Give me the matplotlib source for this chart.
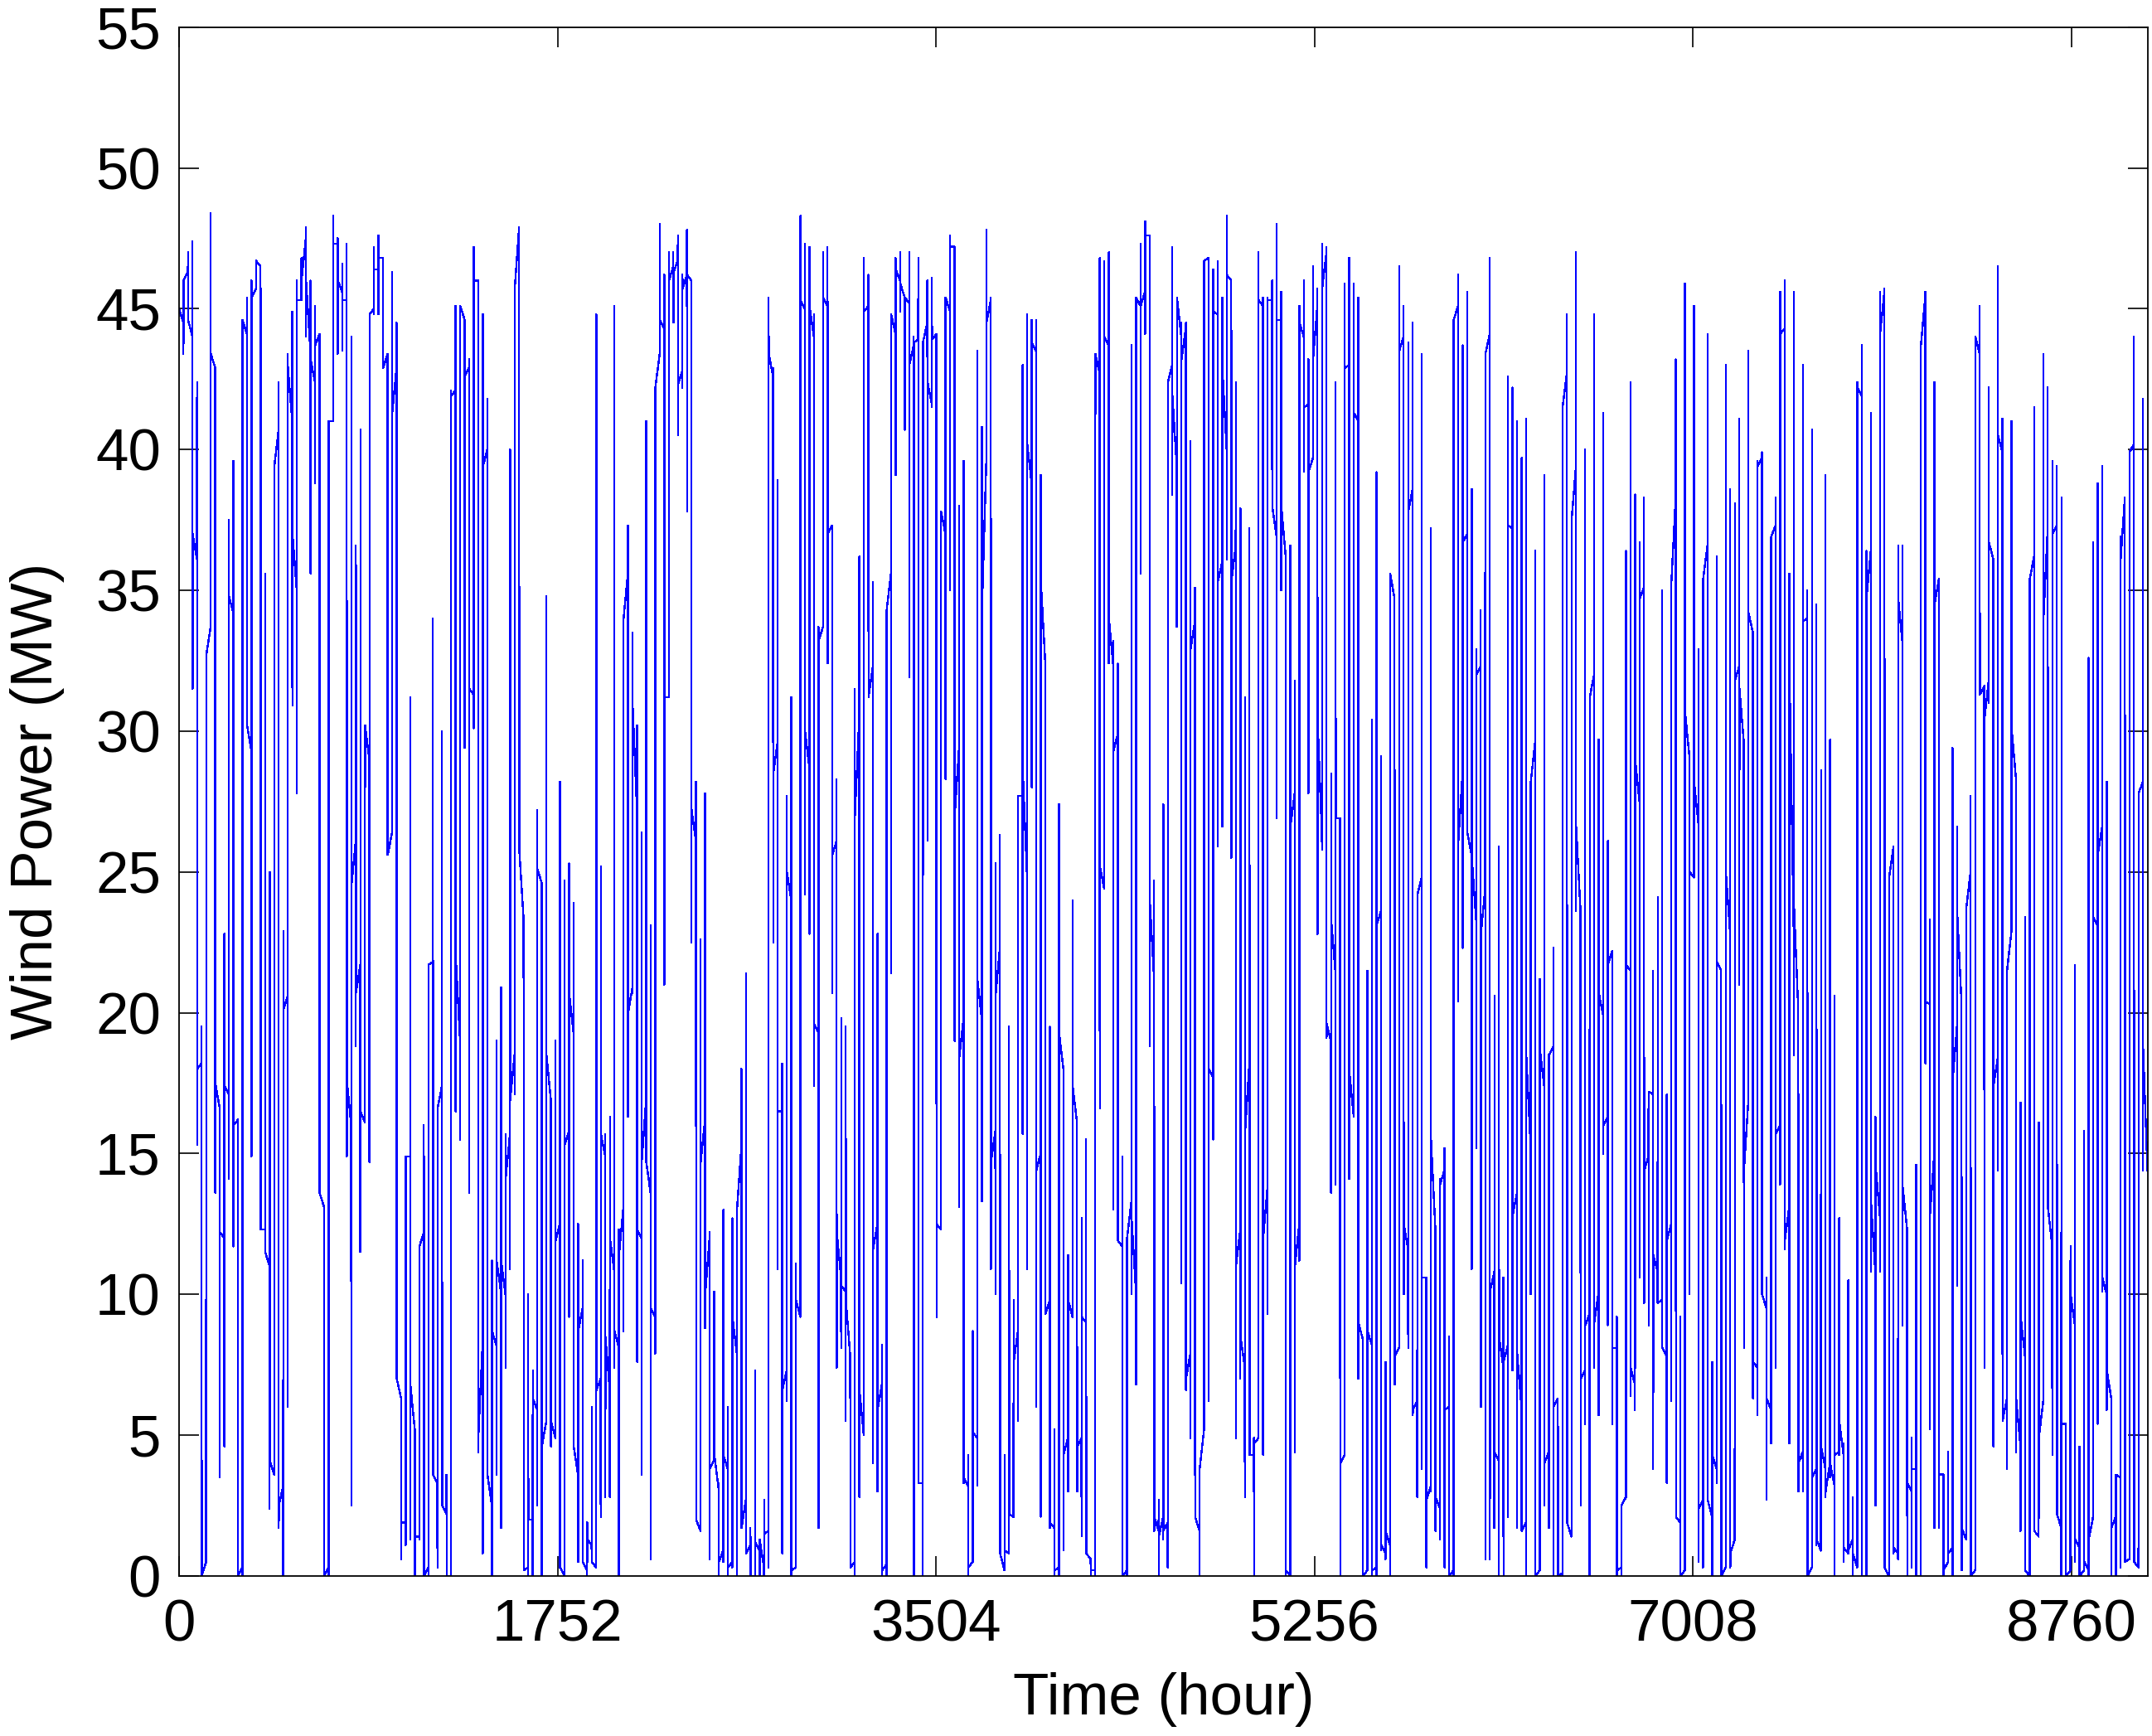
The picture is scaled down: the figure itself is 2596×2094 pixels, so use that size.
import matplotlib
matplotlib.use('Agg')
import matplotlib.pyplot as plt

plt.rcParams['font.family'] = ['Liberation Sans', 'DejaVu Sans']

# ==================== data ====================
# the series is a chain of ~21 h plateaus joined by near-vertical jumps
BLOCK_H = 21          # hours per plateau
X_MAX = 9115

# plateau start / end level (MW)
blk_a = [
    45.0, 46.0, 44.6, 37.0, 18.0, 0.0, 32.7, 43.4, 17.5, 12.2,
    17.4, 34.8, 16.0, 0.0, 44.6, 30.2, 45.4, 46.7, 12.3, 11.5,
    4.1, 39.4, 2.5, 20.1, 42.9, 37.0, 45.3, 46.0, 46.0, 43.2,
    43.7, 13.6, 0.0, 41.0, 47.3, 46.0, 45.3, 17.6, 24.5, 20.7,
    16.5, 30.2, 44.8, 46.4, 46.8, 42.9, 25.6, 41.3, 7.0, 1.9,
    14.9, 6.8, 1.4, 11.7, 0.0, 21.7, 3.6, 16.6, 2.5, 0.0,
    41.9, 22.0, 45.1, 42.6, 31.5, 46.0, 5.0, 39.4, 3.6, 8.7,
    11.2, 11.2, 14.1, 16.9, 45.7, 25.8, 0.2, 2.0, 6.3, 25.1,
    4.6, 18.5, 5.5, 11.9, 0.3, 15.3, 20.7, 4.6, 8.7, 0.5,
    1.3, 0.5, 6.6, 15.7, 8.5, 12.0, 8.7, 11.4, 34.0, 20.0,
    30.9, 12.3, 14.7, 14.7, 9.5, 42.2, 44.6, 31.2, 46.0, 46.3,
    42.3, 45.7, 46.2, 27.2, 2.0, 14.7, 10.0, 3.8, 4.3, 0.5,
    4.3, 0.3, 9.2, 13.0, 1.7, 0.8, 0.0, 1.2, 1.3, 1.5,
    43.4, 28.5, 16.5, 6.6, 25.0, 0.2, 9.8, 45.3, 30.0, 45.1,
    19.6, 33.2, 45.4, 37.0, 25.6, 12.2, 10.3, 9.8, 0.3, 27.0,
    6.6, 44.9, 31.2, 11.6, 5.9, 0.2, 34.3, 44.8, 46.4, 45.9,
    45.4, 43.0, 43.8, 3.3, 43.8, 42.4, 43.9, 12.5, 37.8, 45.4,
    47.2, 27.0, 18.4, 3.5, 0.3, 5.1, 21.2, 34.3, 44.5, 14.7,
    20.6, 0.8, 0.9, 2.2, 7.6, 27.7, 28.6, 40.2, 43.8, 14.4,
    35.3, 9.3, 1.9, 0.2, 19.3, 4.3, 9.8, 17.4, 4.6, 9.2,
    0.8, 0.2, 43.4, 25.2, 44.0, 34.0, 29.3, 11.9, 0.0, 12.0,
    12.7, 45.4, 45.1, 47.6, 24.0, 2.1, 1.4, 1.6, 42.4, 41.9,
    45.4, 43.2, 7.0, 32.9, 2.1, 3.8, 46.7, 18.0, 44.9, 35.3,
    42.9, 46.2, 35.3, 11.0, 8.5, 15.7, 4.3, 4.7, 45.3, 12.0,
    45.3, 38.0, 44.6, 38.0, 0.2, 26.6, 11.0, 44.5, 41.5, 39.2,
    43.2, 30.4, 45.7, 19.6, 23.3, 26.9, 4.0, 42.9, 17.9, 41.3,
    9.0, 0.0, 8.7, 0.2, 23.1, 1.1, 1.6, 35.6, 7.8, 43.5,
    12.5, 37.8, 5.9, 24.2, 10.6, 2.7, 15.5, 2.8, 13.9, 5.9,
    0.0, 44.6, 26.0, 36.7, 26.4, 25.5, 32.0, 22.8, 43.4, 10.1,
    4.4, 8.5, 7.6, 37.3, 12.8, 7.9, 1.6, 18.5, 28.2, 0.0,
    18.7, 4.0, 18.5, 6.0, 0.0, 41.5, 1.9, 37.5, 26.6, 7.0,
    8.9, 31.2, 9.0, 20.7, 16.0, 21.7, 8.1, 0.2, 2.5, 21.7,
    7.4, 29.0, 34.7, 14.4, 17.2, 11.4, 9.7, 8.1, 11.9, 35.3,
    2.1, 0.0, 30.7, 25.0, 28.2, 2.4, 35.4, 2.7, 4.3, 21.8,
    0.0, 25.0, 0.8, 31.8, 31.5, 14.4, 34.2, 7.6, 39.4, 10.0,
    6.3, 36.9, 15.7, 44.1, 11.9, 32.4, 23.9, 4.0, 33.9, 0.0,
    3.5, 1.3, 4.6, 3.0, 4.0, 4.3, 5.5, 1.0, 0.9, 0.8,
    42.2, 0.0, 34.7, 13.3, 14.6, 44.1, 0.3, 24.8, 1.0, 34.7,
    13.8, 3.3, 3.8, 0.0, 43.7, 20.4, 12.8, 34.5, 3.6, 0.2,
    0.8, 17.6, 23.6, 1.7, 23.7, 0.0, 44.0, 31.3, 30.4, 36.7,
    17.4, 40.5, 5.5, 21.5, 30.1, 6.3, 9.2, 0.2, 35.4, 1.6,
    4.9, 33.9, 13.1, 37.0, 2.2, 5.4, 0.0, 10.0, 1.3, 0.0,
    0.5, 1.3, 23.4, 25.6, 10.6, 7.3, 1.7, 3.6, 36.0, 0.5,
    39.9, 0.5, 27.8, 18.7,
]
blk_b = [
    44.5, 46.3, 44.0, 36.1, 18.2, 0.5, 33.7, 42.9, 16.6, 12.0,
    17.1, 34.2, 16.2, 0.3, 44.1, 29.3, 45.7, 46.5, 12.3, 11.0,
    3.6, 40.7, 3.2, 20.6, 41.0, 35.0, 45.3, 47.5, 43.5, 42.4,
    44.1, 13.1, 0.3, 41.0, 47.3, 45.6, 45.3, 16.0, 26.1, 21.7,
    16.1, 29.0, 45.0, 46.4, 46.8, 43.4, 26.4, 42.9, 6.3, 1.9,
    14.9, 5.2, 1.4, 12.2, 0.3, 21.8, 3.3, 17.4, 2.2, 0.0,
    42.1, 19.0, 44.6, 42.9, 31.3, 46.0, 8.4, 40.0, 2.5, 8.2,
    10.1, 10.0, 15.7, 18.5, 47.9, 23.3, 0.3, 2.0, 5.9, 24.6,
    5.5, 16.9, 4.9, 12.5, 0.0, 15.8, 19.3, 3.6, 9.5, 0.2,
    1.1, 0.3, 7.0, 14.9, 6.6, 10.8, 8.1, 13.1, 35.6, 20.9,
    27.2, 12.0, 16.9, 13.6, 9.2, 43.4, 44.3, 31.2, 46.5, 46.7,
    42.8, 46.2, 46.0, 26.1, 1.6, 16.2, 12.0, 4.1, 3.1, 0.9,
    3.8, 0.5, 7.9, 15.2, 2.7, 1.1, 0.0, 0.9, 0.3, 1.6,
    42.6, 29.6, 16.5, 7.3, 24.0, 0.3, 9.2, 45.0, 28.7, 44.0,
    19.3, 33.7, 45.1, 37.3, 26.1, 10.6, 10.1, 7.8, 0.5, 30.5,
    5.0, 45.1, 32.3, 12.5, 6.8, 0.4, 35.6, 44.1, 46.0, 45.4,
    45.2, 43.7, 43.9, 3.3, 44.5, 41.6, 44.1, 12.3, 37.0, 44.9,
    47.2, 29.4, 19.8, 3.2, 0.5, 4.9, 19.8, 39.6, 45.3, 15.8,
    22.3, 0.2, 0.8, 2.1, 8.7, 27.7, 24.8, 38.8, 43.5, 15.0,
    32.4, 9.8, 1.7, 0.3, 18.0, 4.9, 9.2, 16.1, 4.9, 9.0,
    0.6, 0.2, 42.7, 24.4, 43.7, 32.3, 29.9, 11.7, 0.2, 13.3,
    10.1, 45.1, 45.6, 47.6, 21.2, 1.6, 2.1, 1.9, 43.0, 39.4,
    44.0, 44.3, 7.9, 33.9, 1.6, 5.2, 46.8, 17.7, 44.8, 36.0,
    40.0, 46.0, 36.6, 12.3, 7.4, 18.2, 4.3, 4.9, 45.1, 13.8,
    45.3, 36.9, 44.6, 36.2, 0.0, 27.8, 12.5, 44.0, 41.6, 39.7,
    45.1, 26.3, 47.0, 19.0, 21.4, 26.9, 4.3, 43.0, 16.3, 41.0,
    8.4, 0.2, 8.2, 0.3, 23.6, 0.8, 1.1, 34.7, 8.1, 44.0,
    11.6, 38.6, 6.2, 24.8, 10.6, 3.2, 12.3, 2.4, 14.4, 6.0,
    0.2, 45.1, 28.5, 37.0, 25.6, 23.3, 32.3, 24.4, 44.1, 10.8,
    4.1, 7.4, 8.2, 37.2, 13.6, 6.0, 1.9, 15.3, 29.6, 0.2,
    17.4, 4.4, 18.8, 6.3, 0.1, 42.7, 1.4, 39.4, 23.6, 7.3,
    9.3, 32.0, 10.1, 19.9, 16.3, 22.2, 8.1, 0.3, 2.8, 21.5,
    6.8, 27.5, 35.1, 14.9, 17.1, 10.8, 9.8, 7.8, 12.5, 38.3,
    1.9, 0.2, 29.1, 24.8, 26.7, 2.7, 36.6, 2.1, 3.8, 21.5,
    0.3, 22.8, 1.3, 32.3, 29.6, 16.9, 33.5, 7.4, 39.7, 9.5,
    5.9, 37.3, 16.0, 44.3, 13.1, 23.0, 20.1, 4.4, 34.0, 0.3,
    3.8, 0.9, 3.8, 4.0, 3.2, 4.4, 4.3, 0.8, 1.3, 0.3,
    41.9, 0.0, 36.4, 10.8, 12.8, 45.6, 0.0, 25.9, 0.8, 33.1,
    12.3, 3.0, 3.8, 0.0, 45.4, 20.3, 15.0, 35.4, 3.6, 0.5,
    1.0, 19.5, 20.3, 1.3, 25.0, 0.2, 43.4, 31.6, 31.8, 36.1,
    18.4, 39.9, 6.3, 22.9, 28.3, 4.6, 7.8, 0.0, 36.2, 1.4,
    6.2, 37.2, 11.7, 37.3, 1.7, 5.4, 0.2, 8.9, 1.0, 0.2,
    0.2, 2.1, 23.1, 26.6, 10.0, 6.3, 2.1, 3.5, 38.3, 0.6,
    40.2, 0.3, 28.2, 14.4,
]
# extent of the vertical jump that follows each plateau (MW)
jmp_hi = [
    46.0, 47.0, 47.4, 42.4, 19.5, 32.7, 48.4, 42.9, 16.6, 22.8,
    37.5, 39.6, 16.2, 44.6, 45.4, 46.0, 46.7, 46.5, 35.6, 25.0,
    39.4, 42.4, 22.9, 43.4, 44.9, 46.0, 46.8, 47.9, 46.0, 45.1,
    44.1, 13.1, 41.0, 48.3, 47.5, 46.6, 47.3, 44.0, 36.6, 40.7,
    30.2, 44.8, 47.2, 47.6, 46.8, 43.4, 46.3, 44.5, 6.3, 14.9,
    31.2, 5.2, 11.7, 16.0, 21.7, 34.0, 16.6, 30.0, 3.6, 42.1,
    45.1, 45.1, 44.6, 43.2, 47.2, 46.0, 44.8, 41.8, 11.2, 19.0,
    20.9, 15.7, 40.0, 45.7, 47.9, 23.3, 10.0, 7.3, 27.2, 24.6,
    34.8, 16.9, 19.0, 28.2, 24.7, 25.3, 23.9, 12.5, 11.2, 1.9,
    6.0, 44.8, 25.2, 15.7, 16.3, 45.1, 12.3, 34.0, 37.3, 33.5,
    30.2, 26.4, 41.0, 23.1, 42.2, 48.0, 46.2, 47.0, 47.0, 47.6,
    46.2, 47.8, 46.0, 28.2, 22.6, 27.8, 12.2, 10.1, 3.3, 13.0,
    6.0, 12.7, 13.1, 18.0, 21.4, 1.7, 7.3, 1.3, 2.7, 45.4,
    42.9, 38.9, 18.2, 27.7, 31.2, 11.1, 48.3, 47.3, 47.2, 44.8,
    33.7, 47.0, 47.2, 37.2, 28.3, 19.8, 19.5, 7.8, 31.5, 36.2,
    46.8, 46.2, 35.3, 22.8, 8.2, 34.3, 44.8, 46.8, 47.0, 45.4,
    47.0, 44.0, 46.8, 43.8, 46.0, 46.1, 44.1, 37.8, 45.4, 47.6,
    47.2, 38.0, 39.6, 4.3, 8.7, 43.5, 40.8, 47.8, 45.4, 25.3,
    26.3, 4.3, 19.5, 9.8, 27.7, 43.0, 44.8, 44.6, 44.6, 39.1,
    32.4, 19.5, 5.2, 27.4, 18.0, 11.4, 24.0, 16.1, 12.7, 15.5,
    0.6, 43.4, 46.8, 46.7, 47.0, 33.2, 32.4, 14.9, 12.0, 43.7,
    45.4, 47.3, 48.1, 47.6, 24.7, 2.7, 27.4, 42.4, 47.2, 45.4,
    44.5, 44.5, 40.3, 35.1, 3.8, 46.7, 46.8, 46.4, 46.7, 45.4,
    48.3, 46.0, 42.4, 37.9, 31.2, 37.2, 4.9, 47.0, 45.4, 45.4,
    46.0, 48.0, 45.6, 36.2, 36.6, 31.8, 45.1, 46.0, 43.2, 46.5,
    45.7, 47.3, 47.2, 28.5, 42.4, 26.9, 45.9, 46.8, 45.9, 45.4,
    8.4, 21.5, 30.4, 39.2, 29.1, 7.6, 35.6, 34.7, 46.5, 45.1,
    43.8, 44.5, 24.2, 43.4, 10.6, 37.2, 12.3, 14.1, 15.2, 8.5,
    44.6, 46.2, 43.7, 45.6, 38.6, 32.9, 34.3, 43.4, 46.8, 20.6,
    25.9, 10.6, 42.6, 42.2, 41.0, 39.7, 41.1, 28.0, 36.4, 21.2,
    39.1, 18.5, 22.3, 6.3, 41.3, 44.8, 37.5, 47.0, 23.6, 40.0,
    31.2, 44.8, 29.7, 41.3, 26.1, 22.2, 9.2, 2.5, 36.4, 42.4,
    38.4, 36.7, 38.3, 17.2, 21.5, 24.1, 35.0, 17.1, 35.3, 43.2,
    9.2, 45.9, 29.1, 45.1, 32.9, 35.4, 44.1, 7.6, 36.2, 21.5,
    43.0, 38.6, 38.1, 41.1, 29.6, 43.5, 33.5, 39.6, 39.9, 10.6,
    36.9, 38.3, 45.6, 46.0, 35.6, 45.6, 20.1, 43.0, 35.0, 40.7,
    34.5, 28.6, 39.1, 29.7, 20.6, 12.7, 4.7, 10.5, 2.8, 42.4,
    43.7, 36.4, 41.3, 16.3, 45.6, 45.7, 24.8, 25.9, 36.6, 36.6,
    12.3, 4.9, 14.6, 43.8, 45.6, 23.3, 42.4, 35.4, 3.6, 4.4,
    29.4, 26.6, 20.3, 23.7, 27.7, 44.0, 45.1, 31.6, 42.2, 36.1,
    46.5, 41.1, 21.5, 41.0, 28.3, 16.8, 23.4, 35.4, 41.5, 16.1,
    43.4, 42.2, 39.6, 39.4, 38.3, 5.4, 11.7, 21.7, 4.6, 15.8,
    32.6, 36.7, 38.8, 39.4, 28.2, 6.3, 3.6, 36.9, 38.3, 39.9,
    44.0, 27.8, 41.8, 14.4,
]
jmp_lo = [
    43.4, 44.6, 31.5, 15.3, 0.0, 0.5, 33.7, 13.6, 3.5, 4.6,
    14.1, 11.7, 0.0, 0.0, 30.2, 14.9, 45.7, 12.3, 11.5, 2.4,
    3.6, 1.7, 0.0, 6.0, 30.9, 27.8, 45.3, 44.0, 35.6, 38.8,
    13.6, 0.0, 0.0, 41.0, 43.4, 43.5, 14.9, 2.5, 18.8, 11.5,
    16.1, 14.7, 44.8, 44.8, 42.9, 25.6, 26.4, 7.0, 0.6, 1.1,
    1.3, 0.0, 1.3, 0.0, 0.0, 3.6, 0.3, 2.5, 0.0, 0.0,
    16.5, 15.5, 29.4, 13.6, 30.1, 4.4, 0.8, 3.6, 0.0, 3.6,
    1.7, 7.4, 10.9, 17.1, 25.8, 0.2, 0.0, 0.0, 2.5, 0.0,
    5.5, 4.6, 4.9, 0.3, 0.0, 9.2, 4.6, 0.5, 0.5, 0.0,
    0.5, 0.3, 2.1, 2.8, 2.8, 7.4, 0.0, 8.7, 16.3, 20.7,
    7.6, 3.6, 14.7, 0.6, 7.9, 43.4, 21.0, 31.2, 44.5, 40.5,
    42.2, 37.8, 22.5, 2.1, 1.6, 8.8, 0.6, 4.3, 0.0, 0.5,
    0.0, 0.3, 0.0, 1.7, 0.8, 0.0, 0.0, 0.0, 0.0, 0.3,
    22.5, 10.9, 0.8, 6.2, 0.0, 0.3, 9.2, 24.2, 22.8, 17.4,
    1.7, 33.7, 32.4, 20.7, 7.4, 8.1, 5.5, 0.3, 0.0, 2.8,
    5.1, 31.2, 4.0, 3.0, 0.0, 0.0, 21.4, 39.1, 44.9, 40.7,
    31.9, 0.0, 3.3, 0.0, 26.1, 41.5, 9.2, 12.3, 28.3, 35.0,
    19.0, 13.1, 3.3, 0.0, 0.5, 3.2, 13.3, 39.6, 10.9, 10.0,
    0.8, 0.2, 0.8, 2.1, 5.5, 15.7, 10.9, 28.0, 6.0, 2.1,
    9.3, 1.7, 0.0, 0.0, 0.9, 3.0, 9.2, 3.0, 1.4, 0.8,
    0.0, 0.0, 16.6, 24.4, 32.4, 13.0, 11.9, 0.0, 0.0, 10.0,
    6.8, 35.6, 44.1, 18.8, 1.6, 0.0, 1.3, 0.3, 38.4, 33.7,
    10.4, 6.6, 4.9, 2.1, 0.0, 5.2, 6.2, 15.5, 25.9, 26.6,
    36.1, 25.5, 4.9, 7.0, 2.8, 4.3, 0.0, 4.9, 4.3, 9.3,
    38.0, 26.9, 35.0, 0.0, 0.0, 4.4, 11.2, 39.2, 27.8, 39.7,
    22.8, 25.8, 19.1, 13.6, 13.9, 0.0, 4.7, 14.1, 16.3, 7.0,
    0.0, 0.2, 0.0, 0.0, 0.9, 0.6, 0.0, 6.8, 8.1, 10.0,
    8.1, 5.7, 2.8, 3.8, 0.3, 3.0, 1.6, 1.3, 0.3, 0.0,
    0.0, 20.4, 22.3, 26.4, 10.9, 15.2, 6.0, 0.6, 0.6, 1.7,
    0.0, 0.0, 2.1, 7.3, 1.7, 1.6, 0.0, 10.0, 0.0, 0.2,
    2.5, 1.7, 0.0, 0.0, 0.0, 2.1, 1.4, 23.6, 2.5, 5.4,
    0.0, 7.4, 5.7, 15.0, 8.9, 5.4, 0.0, 0.0, 2.8, 6.4,
    5.9, 10.6, 9.7, 8.9, 3.8, 9.7, 8.1, 3.3, 6.2, 2.1,
    0.0, 0.2, 10.0, 24.8, 0.5, 0.3, 2.7, 0.0, 3.3, 0.0,
    0.3, 0.3, 1.3, 21.0, 8.1, 16.9, 6.3, 5.7, 10.0, 2.7,
    4.7, 7.4, 13.9, 11.6, 4.7, 18.5, 3.0, 3.0, 0.0, 0.3,
    1.1, 0.9, 2.8, 3.5, 0.0, 4.3, 0.5, 0.8, 0.0, 0.3,
    0.0, 0.0, 10.8, 2.5, 10.8, 0.3, 0.0, 0.8, 0.6, 8.9,
    0.0, 0.3, 0.0, 0.0, 18.2, 5.2, 1.7, 1.7, 0.0, 0.5,
    0.0, 10.3, 0.2, 1.3, 0.0, 0.2, 31.3, 7.4, 31.0, 4.6,
    14.4, 5.5, 3.8, 22.9, 4.4, 1.6, 0.2, 0.0, 1.6, 1.4,
    6.2, 13.1, 4.3, 2.2, 0.0, 0.0, 0.2, 0.5, 0.0, 0.2,
    0.0, 2.1, 5.4, 10.1, 5.9, 0.0, 0.0, 0.3, 0.5, 0.6,
    0.5, 0.3, 14.4, 14.4,
]

x_ticks = [0, 1752, 3504, 5256, 7008, 8760]
y_ticks = list(range(0, 60, 5))

# ==================== build the line ====================
hours, mw = [], []
n = len(blk_a)
for i in range(n):
    t0 = i * BLOCK_H
    hours += [t0, t0 + BLOCK_H - 1]
    mw += [blk_a[i], blk_b[i]]
    if i < n - 1:
        b = blk_b[i]
        if abs(jmp_hi[i] - b) < abs(b - jmp_lo[i]):
            seq = [jmp_hi[i], jmp_lo[i]]
        else:
            seq = [jmp_lo[i], jmp_hi[i]]
        hours += [t0 + BLOCK_H - 0.67, t0 + BLOCK_H - 0.33]
        mw += seq

# ==================== plot ====================
fig = plt.figure(figsize=(25.96, 20.94), dpi=100)
ax = fig.add_axes([0.0832, 0.0922, 0.9149, 0.8922])
ax.plot(hours, mw, color='#0000FF', linewidth=1.0, antialiased=False)

ax.set_xlim(0, X_MAX)
ax.set_ylim(0, 55)
ax.set_xticks(x_ticks)
ax.set_yticks(y_ticks)
ax.tick_params(direction='in', length=17, width=1.2, labelsize=51,
               top=True, right=True)
ax.tick_params(axis='x', pad=20)
ax.tick_params(axis='y', pad=16)
for sp in ax.spines.values():
    sp.set_linewidth(1.3)

ax.set_xlabel('Time (hour)', fontsize=51)
ax.set_ylabel('Wind Power (MW)', fontsize=51)
ax.xaxis.set_label_coords(0.5, -0.062)
ax.yaxis.set_label_coords(-0.058, 0.5)

fig.savefig('out.png', dpi=100)
